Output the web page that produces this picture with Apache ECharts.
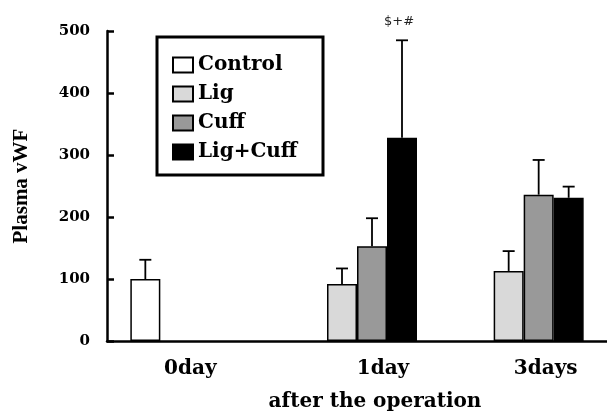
<!DOCTYPE html>
<html>
<head>
<meta charset="utf-8">
<script src="https://cdn.jsdelivr.net/npm/echarts@6/dist/echarts.min.js"></script>
<style>html,body{margin:0;padding:0;background:#fff}#c{width:607px;height:413px}</style>
</head>
<body>
<div id="c"></div>
<script>
const categories = ['0day', '1day', '3days'];
const seriesNames = ['Control', 'Lig', 'Cuff', 'Lig+Cuff'];
const controlMean = [100, null, null];
const controlSD   = [31, null, null];
const ligMean     = [null, 92, 113];
const ligSD       = [null, 25, 32];
const cuffMean    = [null, 153, 236];
const cuffSD      = [null, 45, 56];
const ligCuffMean = [null, 328, 231];
const ligCuffSD   = [null, 157, 18];
const ligCuffNote = [null, '$+#', null];
const yTicks = [0, 100, 200, 300, 400, 500];

const means = [controlMean, ligMean, cuffMean, ligCuffMean];
const sds = [controlSD, ligSD, cuffSD, ligCuffSD];
const notes = [[null,null,null],[null,null,null],[null,null,null], ligCuffNote];
const colors = ['#ffffff', '#d9d9d9', '#999999', '#000000'];
const BW = 30;

const errData = [];
means.forEach((arr, s) => arr.forEach((m, c) => {
  if (m != null) errData.push([c, s, m, sds[s][c], notes[s][c] || '']);
}));

const serif = '"DejaVu Serif", serif';
const chart = echarts.init(document.getElementById('c'), null, {renderer: 'canvas'});
const labelShift = [0, 52, 44];
const rich = {};
labelShift.forEach((p, i) => { rich['c' + i] = {padding: [0, 0, 0, p], fontFamily: serif, fontWeight: 'bold', fontSize: 20, color: '#000'}; });

chart.setOption({
  animation: false,
  backgroundColor: '#fff',
  grid: {left: 107, right: 0, top: 31, bottom: 72, containLabel: false, outerBoundsMode: 'none'},
  legend: {
    orient: 'vertical', left: 167, top: 50,
    itemWidth: 20, itemHeight: 15, itemGap: 9, icon: 'rect',
    data: seriesNames,
    textStyle: {fontFamily: serif, fontWeight: 'bold', fontSize: 20, lineHeight: 20, color: '#000'}
  },
  graphic: [{type: 'rect', shape: {x: 157, y: 37, width: 166, height: 138}, style: {fill: null, stroke: '#000', lineWidth: 3}, z: 10}],
  xAxis: {
    type: 'category', data: categories,
    axisLine: {lineStyle: {color: '#000', width: 2.5}},
    axisTick: {show: false},
    axisLabel: {margin: 18, formatter: (v, i) => '{c' + i + '|' + v + '}', rich: rich},
    name: 'after the operation', nameLocation: 'middle', nameGap: 51,
    nameTextStyle: {fontFamily: serif, fontWeight: 'bold', fontSize: 20, color: '#000', padding: [0, 0, 0, 36]}
  },
  yAxis: {
    type: 'value', min: yTicks[0], max: yTicks[yTicks.length - 1], interval: 100,
    splitLine: {show: false},
    axisLine: {show: true, lineStyle: {color: '#000', width: 2.5}},
    axisTick: {show: true, inside: true, length: 7, lineStyle: {color: '#000', width: 2.5}},
    axisLabel: {margin: 17, fontFamily: serif, fontWeight: 'bold', fontSize: 15, color: '#000'},
    name: 'Plasma vWF', nameLocation: 'middle', nameGap: 75,
    nameTextStyle: {fontFamily: '"Liberation Serif", serif', fontWeight: 'bold', fontSize: 21, color: '#000'}
  },
  series: seriesNames.map((n, s) => ({
    name: n, type: 'bar', data: means[s], barWidth: BW, barGap: '0%',
    itemStyle: {color: colors[s], borderColor: '#000', borderWidth: 1.5}
  })).concat([{
    type: 'custom', clip: false, z: 5,
    encode: {x: 0, y: 2},
    data: errData,
    renderItem: (params, api) => {
      const c = api.value(0), s = api.value(1), m = api.value(2), sd = api.value(3);
      const note = errData[params.dataIndex][4];
      const b = api.coord([c, m]);
      const t = api.coord([c, m + sd]);
      const x = b[0] + (s - 1.5) * BW;
      const ch = [
        {type: 'line', shape: {x1: x, y1: b[1], x2: x, y2: t[1]}, style: {stroke: '#000', lineWidth: 1.8}},
        {type: 'line', shape: {x1: x - 6, y1: t[1], x2: x + 6, y2: t[1]}, style: {stroke: '#000', lineWidth: 1.8}}
      ];
      if (note) ch.push({type: 'text', style: {text: note, x: x - 3, y: t[1] - 19, align: 'center', verticalAlign: 'middle', font: '13px "DejaVu Sans", sans-serif', fill: '#222'}});
      return {type: 'group', children: ch};
    }
  }])
});
</script>
</body>
</html>
